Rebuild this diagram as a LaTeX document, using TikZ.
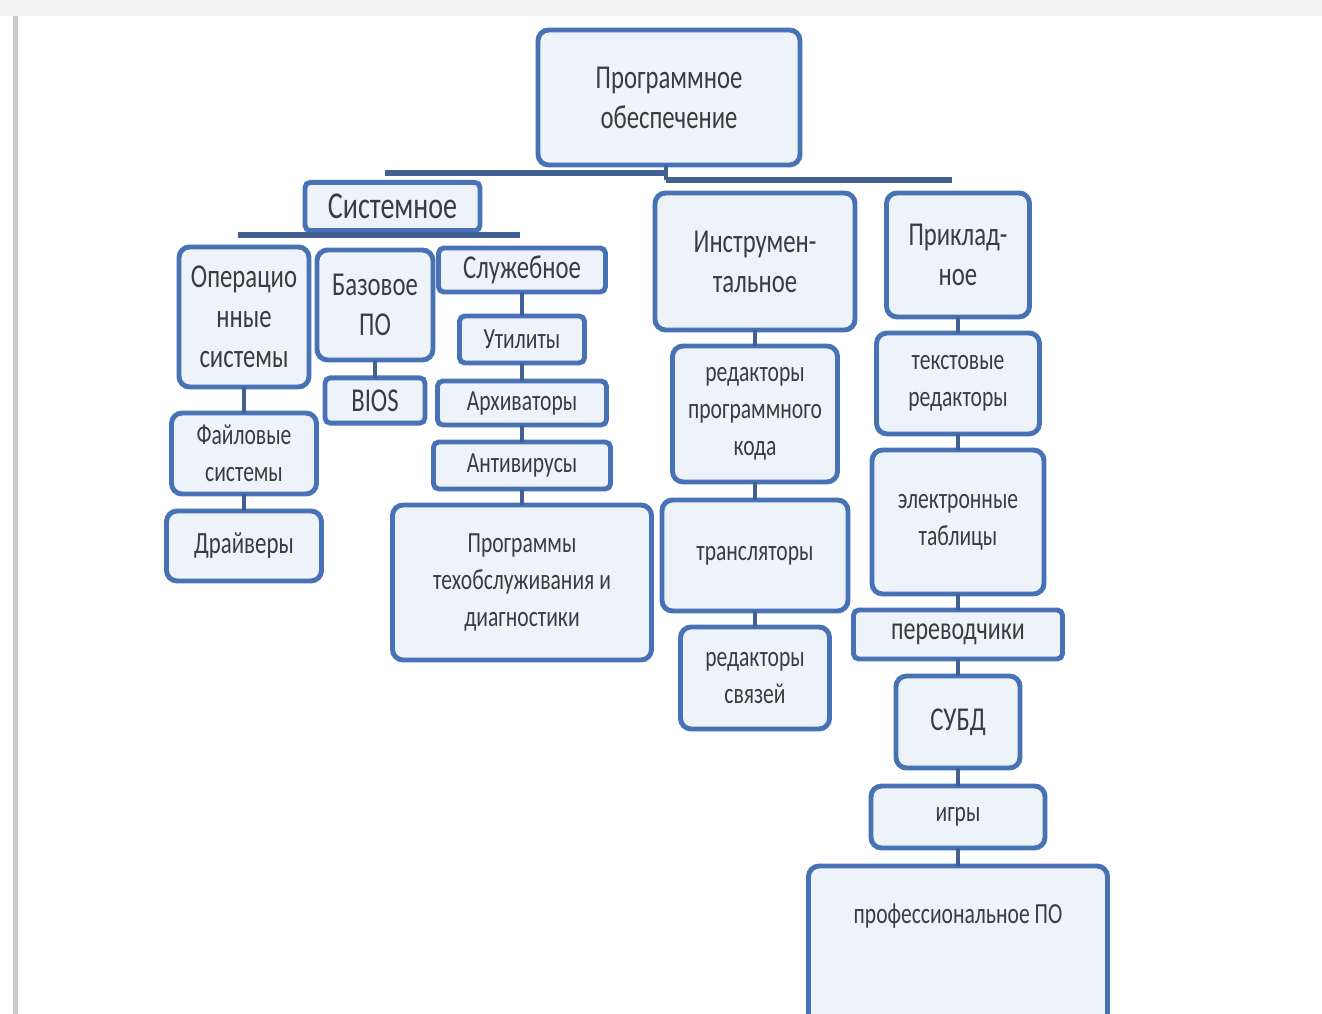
\documentclass[tikz,border=0pt]{standalone}
\usepackage{fontspec}
\setmainfont[FakeStretch=0.74]{Carlito}
\usepackage{xcolor}
\usepackage{tkz-graph}

\begin{document}
\begin{tikzpicture}[font=\fontsize{9.5}{11.4}\selectfont, rounded corners=3pt]
    % 定义颜色
    \definecolor{boxblue}{RGB}{72,114,182}
    \definecolor{boxfill}{RGB}{238,242,249}
    \definecolor{linkblue}{RGB}{66,96,146}
    \definecolor{textgray}{RGB}{60,60,60}

    % --- 页面范围与边框 ---
    \useasboundingbox (0,0) rectangle (13.22,-10.14);
    \fill[black!5, sharp corners] (0,0) rectangle (13.22,-0.16);
    \fill[black!20, sharp corners] (0.13,-0.16) rectangle (0.18,-10.14);

    % --- 设置全局样式 ---
    \GraphInit[vstyle=Normal] % 初始化图风格

    % 重定义 VertexStyle (节点样式)
    \tikzset{VertexStyle/.style = {
        shape=rectangle,        % 形状：圆角矩形
        draw=boxblue,           % 边框颜色
        fill=boxfill,           % 填充颜色
        line width=1.4pt,       % 边框粗细
        align=center,           % 文字居中
        text=textgray
    }}
    % 字号样式
    \tikzset{smalltxt/.style = {font=\fontsize{8.3}{10.6}\selectfont, inner sep=0pt}}
    \tikzset{headtxt/.style = {font=\fontsize{10.8}{13}\selectfont}}
    \tikzset{drvtxt/.style = {font=\fontsize{8.8}{10.6}\selectfont}}
    \tikzset{midtxt/.style = {font=\fontsize{9.2}{11}\selectfont}}
    \tikzset{flatbox/.style = {rounded corners=1.5pt}}

    % 重定义 EdgeStyle (连线样式)
    \tikzset{EdgeStyle/.style = {
        -,                      % 无箭头
        line width=0.9pt,       % 线条粗细
        color=linkblue          % 线条颜色
    }}
    \tikzset{barline/.style = {line width=1.8pt, color=linkblue}}

    % --- 定义节点 (Vertices) ---
    % 顶层
    \Vertex[x=6.69, y=-0.975, L={Программное\\обеспечение},
        style={minimum width=2.62cm, minimum height=1.35cm}]{top}

    % 第二层
    \Vertex[x=3.925, y=-2.065, L={Системное},
        style={headtxt, flatbox, minimum width=1.75cm, minimum height=0.47cm}]{sys}
    \Vertex[x=7.55, y=-2.615, L={Инструмен-\\тальное},
        style={minimum width=2.00cm, minimum height=1.37cm}]{instr}
    \Vertex[x=9.58, y=-2.55, L={Приклад-\\ное},
        style={minimum width=1.43cm, minimum height=1.24cm}]{prikl}

    % 系统软件
    \Vertex[x=2.44, y=-3.17, L={Операцио\\нные\\системы},
        style={inner sep=0pt, minimum width=1.30cm, minimum height=1.40cm}]{os}
    \Vertex[x=2.44, y=-4.535, L={Файловые\\системы},
        style={smalltxt, minimum width=1.45cm, minimum height=0.81cm}]{fs}
    \Vertex[x=2.44, y=-5.46, L={Драйверы},
        style={drvtxt, minimum width=1.55cm, minimum height=0.70cm}]{drv}
    \Vertex[x=3.75, y=-3.05, L={Базовое\\ПО},
        style={inner sep=0pt, minimum width=1.16cm, minimum height=1.10cm}]{base}
    \Vertex[x=3.75, y=-4.005, L={BIOS},
        style={flatbox, minimum width=1.00cm, minimum height=0.45cm}]{bios}
    \Vertex[x=5.22, y=-2.70, L={Служебное},
        style={flatbox, inner sep=0pt, minimum width=1.67cm, minimum height=0.44cm}]{serv}
    \Vertex[x=5.22, y=-3.395, L={Утилиты},
        style={smalltxt, flatbox, minimum width=1.25cm, minimum height=0.47cm}]{util}
    \Vertex[x=5.22, y=-4.03, L={Архиваторы},
        style={smalltxt, flatbox, minimum width=1.69cm, minimum height=0.44cm}]{arch}
    \Vertex[x=5.22, y=-4.655, L={Антивирусы},
        style={smalltxt, flatbox, minimum width=1.77cm, minimum height=0.47cm}]{antiv}
    \Vertex[x=5.22, y=-5.825, L={Программы\\техобслуживания и\\диагностики},
        style={smalltxt, minimum width=2.59cm, minimum height=1.55cm}]{diag}

    % 工具软件
    \Vertex[x=7.55, y=-4.14, L={редакторы\\программного\\кода},
        style={smalltxt, minimum width=1.65cm, minimum height=1.36cm}]{codeed}
    \Vertex[x=7.55, y=-5.555, L={трансляторы},
        style={smalltxt, minimum width=1.86cm, minimum height=1.11cm}]{transl}
    \Vertex[x=7.55, y=-6.78, L={редакторы\\связей},
        style={smalltxt, minimum width=1.49cm, minimum height=1.02cm}]{linked}

    % 应用软件
    \Vertex[x=9.58, y=-3.835, L={текстовые\\редакторы},
        style={smalltxt, minimum width=1.63cm, minimum height=1.01cm}]{texted}
    \Vertex[x=9.58, y=-5.22, L={электронные\\таблицы},
        style={smalltxt, minimum width=1.72cm, minimum height=1.44cm}]{sheet}
    \Vertex[x=9.58, y=-6.345, L={переводчики},
        style={midtxt, flatbox, inner sep=0pt, minimum width=2.09cm, minimum height=0.49cm}]{transr}
    \Vertex[x=9.58, y=-7.22, L={СУБД},
        style={minimum width=1.24cm, minimum height=0.92cm}]{dbms}
    \Vertex[x=9.58, y=-8.17, L={игры},
        style={smalltxt, minimum width=1.74cm, minimum height=0.62cm}]{games}
    \Vertex[x=9.58, y=-8.66, L={профессиональное ПО},
        style={smalltxt, anchor=north, minimum width=2.99cm,
        text height=0.57cm, text depth=1.2cm}]{prof}

    % --- 定义连线 (Edges) ---
    \coordinate (barA) at (3.85,-1.73);
    \coordinate (barB) at (6.66,-1.73);
    \coordinate (barC) at (6.66,-1.80);
    \coordinate (barD) at (9.52,-1.80);
    \coordinate (subA) at (2.38,-2.35);
    \coordinate (subB) at (5.20,-2.35);

    \draw[barline] (barA) -- (barB);
    \draw[barline] (barC) -- (barD);
    \draw[barline] (subA) -- (subB);
    \draw[EdgeStyle] (top.south -| barC) -- (barC);

    \Edge(os)(fs)
    \Edge(fs)(drv)
    \Edge(base)(bios)
    \Edge(serv)(util)
    \Edge(util)(arch)
    \Edge(arch)(antiv)
    \Edge(antiv)(diag)
    \Edge(instr)(codeed)
    \Edge(codeed)(transl)
    \Edge(transl)(linked)
    \Edge(prikl)(texted)
    \Edge(texted)(sheet)
    \Edge(sheet)(transr)
    \Edge(transr)(dbms)
    \Edge(dbms)(games)
    \Edge(games)(prof)

  \end{tikzpicture}
\end{document}
